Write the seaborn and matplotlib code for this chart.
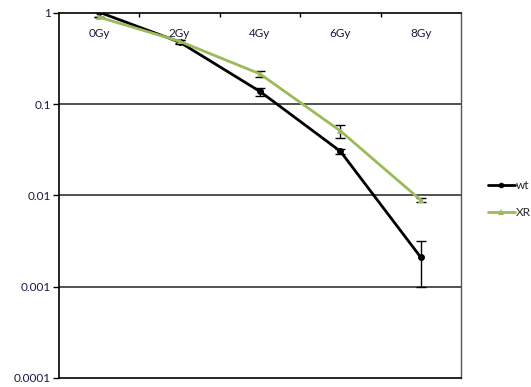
import matplotlib
matplotlib.use("Agg")
import matplotlib.pyplot as plt
import seaborn as sns
import pandas as pd
import numpy as np
from matplotlib.ticker import FixedLocator, FixedFormatter

doses = ["0Gy", "2Gy", "4Gy", "6Gy", "8Gy"]
wt_values = [1.02, 0.48, 0.138, 0.0305, 0.0021]
wt_errors = [0.0, 0.02, 0.014, 0.002, 0.0011]
xr_values = [0.90, 0.49, 0.215, 0.051, 0.0089]
xr_errors = [0.0, 0.02, 0.015, 0.008, 0.0004]
series_names = ["wt", "XR"]
y_tick_values = [0.0001, 0.001, 0.01, 0.1, 1]
y_tick_labels = ["0.0001", "0.001", "0.01", "0.1", "1"]

sns.set_theme(style="white")
plt.rcParams["font.family"] = ["Lato", "DejaVu Sans"]

df = pd.DataFrame({
    "dose": doses * 2,
    "survival": wt_values + xr_values,
    "err": wt_errors + xr_errors,
    "line": [series_names[0]] * len(doses) + [series_names[1]] * len(doses),
})

fig = plt.figure(figsize=(5.31, 3.87), dpi=100)
ax = fig.add_axes([59 / 531, 9 / 387, 402 / 531, 365 / 387])

palette = {"wt": "#000000", "XR": "#9BBB59"}
markers = {"wt": "o", "XR": "^"}

# error bars first, underneath the lines
for name in series_names:
    sub = df[df["line"] == name]
    xpos = [doses.index(d) for d in sub["dose"]]
    ax.errorbar(xpos, sub["survival"], yerr=sub["err"], fmt="none",
                ecolor="black", elinewidth=1.0, capsize=3.5, capthick=1.0, zorder=3)

sns.lineplot(data=df, x="dose", y="survival", hue="line", style="line",
             palette=palette, markers=markers, dashes=False,
             linewidth=2.0, markersize=5, markeredgewidth=0,
             sort=False, ax=ax, zorder=4)

ax.set_yscale("log")
ax.set_ylim(0.0001, 1)
ax.set_xlim(-0.5, 4.5)
ax.set_xlabel("")
ax.set_ylabel("")

ax.yaxis.set_major_locator(FixedLocator(y_tick_values))
ax.yaxis.set_major_formatter(FixedFormatter(y_tick_labels))
ax.yaxis.set_minor_locator(FixedLocator([]))
ax.tick_params(axis="y", which="major", left=True, length=4, width=1,
               color="black", labelsize=8.5, labelcolor="#1a1a40", pad=2)

# category labels sit just under the top edge, ticks between categories
ax.xaxis.set_major_locator(FixedLocator(range(len(doses))))
ax.xaxis.set_major_formatter(FixedFormatter(doses))
ax.xaxis.set_minor_locator(FixedLocator([0.5, 1.5, 2.5, 3.5]))
ax.tick_params(axis="x", which="major", bottom=False, labelbottom=False,
               top=True, labeltop=True, length=0, labelsize=8.5,
               labelcolor="#1a1a40", pad=-19)
ax.tick_params(axis="x", which="minor", bottom=False, top=True,
               direction="in", length=3, width=1, color="black")

for v in [0.1, 0.01, 0.001]:
    ax.axhline(v, color="#222222", linewidth=1.1, zorder=1)

for side in ["top", "left", "bottom"]:
    ax.spines[side].set_color("black")
    ax.spines[side].set_linewidth(1.2)
ax.spines["right"].set_color("#555555")
ax.spines["right"].set_linewidth(1.0)

handles, labels = ax.get_legend_handles_labels()
ax.legend(handles, labels, loc="center left", bbox_to_anchor=(1.055, 0.49),
          frameon=False, fontsize=8.5, handlelength=2.3, handletextpad=0.1,
          labelspacing=1.4, borderaxespad=0, markerscale=0.8)

fig.savefig("out.png", dpi=100)
